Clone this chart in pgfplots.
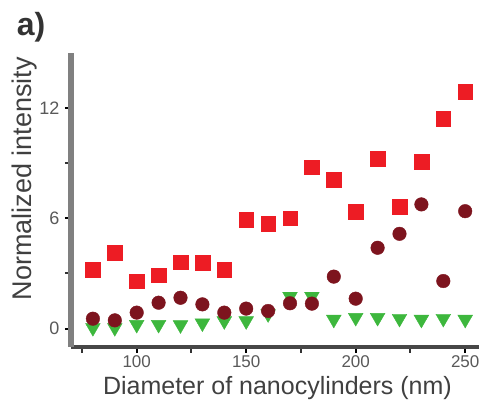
\documentclass[border=0pt]{standalone}
\usepackage{fontspec}
\setmainfont{Liberation Sans}
\usepackage{pgfplots}
\pgfplotsset{compat=1.18}
\definecolor{cred}{RGB}{237,28,36}
\definecolor{cdark}{RGB}{125,20,30}
\definecolor{cgreen}{RGB}{61,183,61}
\begin{document}
\begin{tikzpicture}
\begin{axis}[
  at={(0,0)}, anchor=south west,
  scale only axis, width=408pt, height=294pt,
  xmin=70, xmax=256.3, ymin=-1, ymax=15,
  axis x line*=bottom, axis y line*=left,
  x axis line style={line width=4pt, color=black!72},
  y axis line style={line width=5.5pt, color=black!50},
  xtick={100,150,200,250}, minor xtick={75,125,175,225},
  ytick={0,6,12}, minor ytick={3,9},
  tick align=outside,
  major tick length=6pt, minor tick length=6pt,
  every tick/.style={black, line width=2pt},
  minor tick style={black!80, line width=2pt},
  /pgf/number format/assume math mode=true,
  tick label style={font=\fontsize{18pt}{20pt}\selectfont, text=black!65},
  xticklabel style={font=\fontsize{17pt}{19pt}\selectfont, text depth=0pt, inner sep=1pt, yshift=-1pt},
  yticklabel style={xshift=-2pt},
  xlabel style={font=\fontsize{25pt}{27pt}\selectfont, text=black!75},
  ylabel style={font=\fontsize{27pt}{29pt}\selectfont, text=black!75},
  xlabel={Diameter of nanocylinders (nm)},
  ylabel={Normalized intensity},
  xlabel style={at={(axis description cs:0.506,0)}, anchor=base, yshift=-48pt, inner sep=0pt},
  ylabel style={at={(axis description cs:-0.115,0.573)}, anchor=center},
  clip=false,
]
\addplot[only marks, mark=triangle*, mark size=8.5pt, mark options={rotate=180, fill=cgreen, draw=cgreen}] coordinates {
(80,0.05) (90,0.05) (100,0.22) (110,0.22) (120,0.2) (130,0.3) (140,0.42) (150,0.42)
(160,0.8) (170,1.75) (180,1.75) (190,0.5) (200,0.6) (210,0.6) (220,0.55) (230,0.5) (240,0.55) (250,0.5)
};
\addplot[only marks, mark=square*, mark size=7.3pt, mark options={fill=cred, draw=cred}] coordinates {
(80,3.22) (90,4.13) (100,2.59) (110,2.90) (120,3.62) (130,3.59) (140,3.22) (150,5.94)
(160,5.72) (170,6.0) (180,8.78) (190,8.11) (200,6.36) (210,9.24) (220,6.63) (230,9.08) (240,11.43) (250,12.88)
};
\addplot[only marks, mark=*, mark size=6.8pt, mark options={fill=cdark, draw=cdark}] coordinates {
(80,0.54) (90,0.45) (100,0.87) (110,1.41) (120,1.68) (130,1.32) (140,0.87) (150,1.09)
(160,0.96) (170,1.38) (180,1.36) (190,2.83) (200,1.63) (210,4.40) (220,5.16) (230,6.76) (240,2.59) (250,6.39)
};
\node[font=\bfseries\fontsize{32pt}{34pt}\selectfont, text=black!80, anchor=center] at (axis description cs:-0.098,1.088) {a)};
\end{axis}
\pgfresetboundingbox
\useasboundingbox (-71pt,-54pt) rectangle (408pt,347pt);
\end{tikzpicture}
\end{document}
